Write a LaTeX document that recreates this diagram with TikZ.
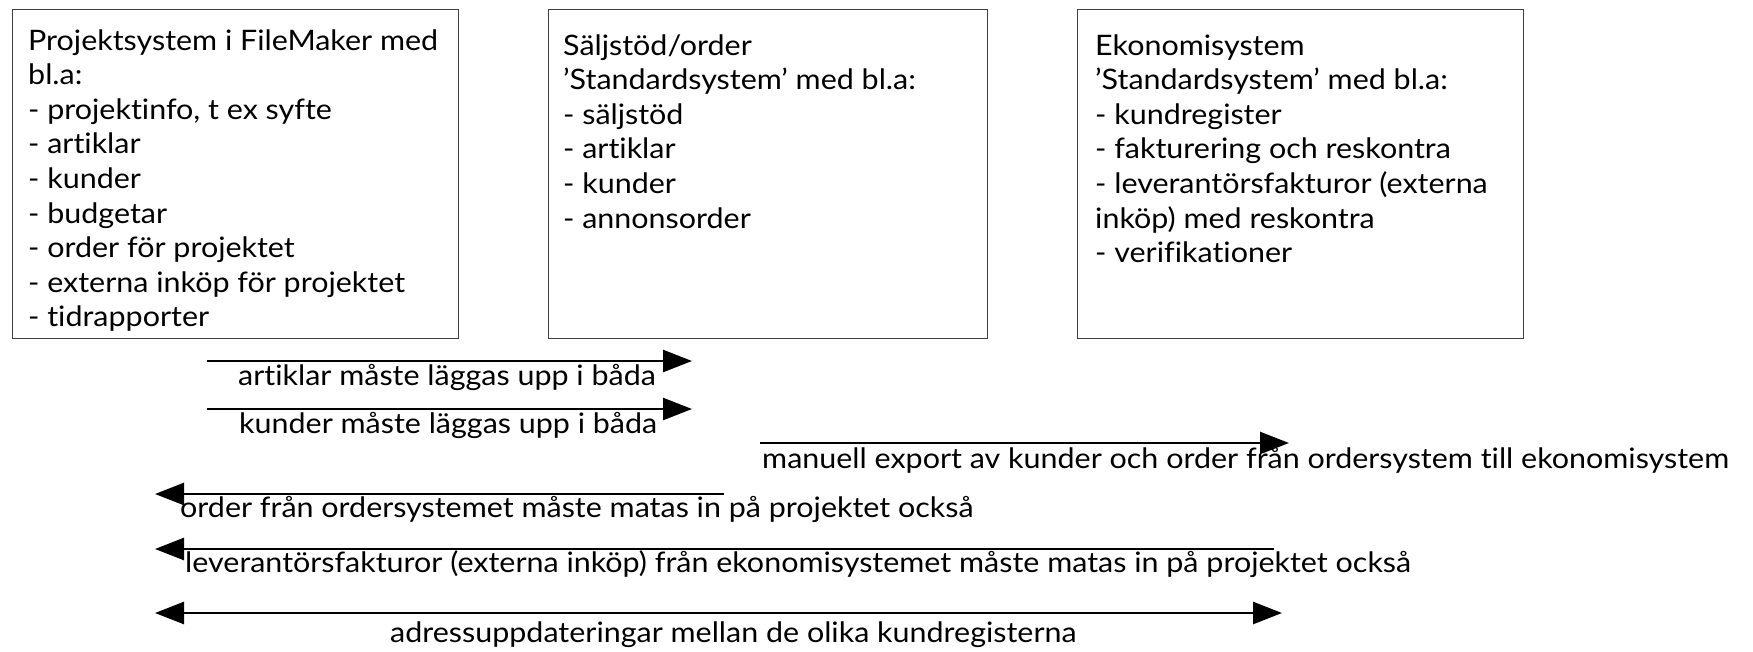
\documentclass[tikz,border=0pt]{standalone}
\usepackage{fontspec}
\setmainfont{Lato}[Ligatures={NoCommon}, FakeStretch=1.08]
\usetikzlibrary{arrows.meta}
\newcommand{\boxlines}[1]{\vtop{\baselineskip=34.6pt\lineskiplimit=-100pt #1}}
\tikzset{
  sysbox/.style={draw=black!75, line width=1.2pt, anchor=north west, inner sep=0pt},
  flow/.style={line width=2.6pt, -{Triangle[length=29pt,width=22pt]}},
  biflow/.style={line width=2.6pt, {Triangle[length=29pt,width=22pt]}-{Triangle[length=29pt,width=22pt]}},
  lbl/.style={anchor=base west, inner sep=0pt, font=\fontsize{28.2}{34}\selectfont},
  boxtext/.style={anchor=base west, inner sep=0pt, font=\fontsize{28.2}{34}\selectfont}
}
\begin{document}
\begin{tikzpicture}[x=1pt,y=-1pt]
\useasboundingbox (0,0) rectangle (1753,651);
% boxes
\node[sysbox, minimum width=446pt, minimum height=329pt] (proj) at (12,9) {};
\node[sysbox, minimum width=439pt, minimum height=329pt] (salj) at (548,9) {};
\node[sysbox, minimum width=446pt, minimum height=329pt] (eko) at (1077,9) {};
\node[boxtext] (projtext) at (28,50) {\boxlines{%
\hbox{Projektsystem i FileMaker med}
\hbox{bl.a:}
\hbox{- projektinfo, t ex syfte}
\hbox{- artiklar}
\hbox{- kunder}
\hbox{- budgetar}
\hbox{- order för projektet}
\hbox{- externa inköp för projektet}
\hbox{- tidrapporter}}};
\node[boxtext] (saljtext) at (563,55) {\boxlines{%
\hbox{Säljstöd/order}
\hbox{’Standardsystem’ med bl.a:}
\hbox{- säljstöd}
\hbox{- artiklar}
\hbox{- kunder}
\hbox{- annonsorder}}};
\node[boxtext] (ekotext) at (1095,55) {\boxlines{%
\hbox{Ekonomisystem}
\hbox{’Standardsystem’ med bl.a:}
\hbox{- kundregister}
\hbox{- fakturering och reskontra}
\hbox{- leverantörsfakturor (externa}
\hbox{inköp) med reskontra}
\hbox{- verifikationer}}};
% arrow end points
\coordinate (a1s) at (207,361); \coordinate (a1e) at (692,361);
\coordinate (a2s) at (207,409); \coordinate (a2e) at (692,409);
\coordinate (a3s) at (760,443); \coordinate (a3e) at (1289,443);
\coordinate (a4s) at (724,494); \coordinate (a4e) at (155,494);
\coordinate (a5s) at (1274,549); \coordinate (a5e) at (155,549);
\coordinate (a6s) at (155,613); \coordinate (a6e) at (1282,613);
\draw[flow] (a1s) -- (a1e);
\draw[flow] (a2s) -- (a2e);
\draw[flow] (a3s) -- (a3e);
\draw[flow] (a4s) -- (a4e);
\draw[flow] (a5s) -- (a5e);
\draw[biflow] (a6s) -- (a6e);
% labels
\node[lbl] (l1) at (238,385) {artiklar måste läggas upp i båda};
\node[lbl] (l2) at (239,433) {kunder måste läggas upp i båda};
\node[lbl] (l3) at (762,468) {manuell export av kunder och order från ordersystem till ekonomisystem};
\node[lbl] (l4) at (180,517) {order från ordersystemet måste matas in på projektet också};
\node[lbl] (l5) at (185,572) {leverantörsfakturor (externa inköp) från ekonomisystemet måste matas in på projektet också};
\node[lbl] (l6) at (390,642) {adressuppdateringar mellan de olika kundregisterna};
\end{tikzpicture}
\end{document}
